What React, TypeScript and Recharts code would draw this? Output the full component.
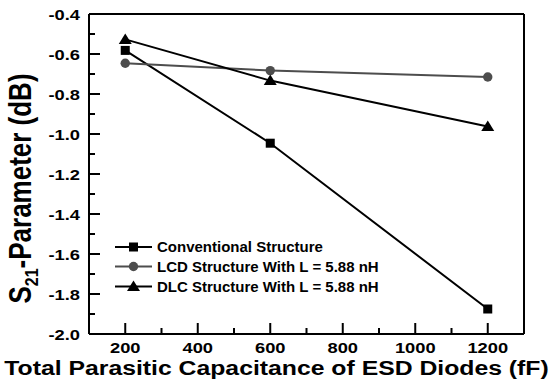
import React from "react";
import { LineChart, Line, XAxis, YAxis, Legend, ReferenceLine } from "recharts";

// capacitance sweep (fF) and S21 readings (dB) for each structure
const capacitance = [200, 600, 1200];
const conventional = [-0.582, -1.046, -1.875];
const lcdWithL = [-0.646, -0.683, -0.715];
const dlcWithL = [-0.527, -0.733, -0.962];

const xTicks = [100, 200, 300, 400, 500, 600, 700, 800, 900, 1000, 1100, 1200, 1300];
const xLabelled = [200, 400, 600, 800, 1000, 1200];
const yTicks = [-2.0, -1.9, -1.8, -1.7, -1.6, -1.5, -1.4, -1.3, -1.2, -1.1, -1.0, -0.9, -0.8, -0.7, -0.6, -0.5, -0.4];

const seriesNames = [
  "Conventional Structure",
  "LCD Structure With L = 5.88 nH",
  "DLC Structure With L = 5.88 nH",
];

const data = capacitance.map((c, i) => ({
  cap: c,
  conv: conventional[i],
  lcd: lcdWithL[i],
  dlc: dlcWithL[i],
}));

const GRAY = "#4d4d4d";
const FONT = "'Liberation Sans', Arial, sans-serif";
const STRETCH = 1.18;

type Shape = "square" | "circle" | "triangle";

const series: { key: string; name: string; color: string; shape: Shape }[] = [
  { key: "conv", name: seriesNames[0], color: "#000", shape: "square" },
  { key: "lcd", name: seriesNames[1], color: GRAY, shape: "circle" },
  { key: "dlc", name: seriesNames[2], color: "#000", shape: "triangle" },
];

const Marker = ({ cx, cy, color, shape }: { cx: number; cy: number; color: string; shape: Shape }) => {
  if (shape === "square") return <rect x={cx - 4.5} y={cy - 4.5} width={9} height={9} fill={color} />;
  if (shape === "circle") return <circle cx={cx} cy={cy} r={4.7} fill={color} />;
  return (
    <polygon
      points={`${cx},${cy - 6} ${cx + 6.5},${cy + 4.5} ${cx - 6.5},${cy + 4.5}`}
      fill={color}
    />
  );
};

const makeDot = (color: string, shape: Shape) => (props: any) => {
  const { cx, cy, index } = props;
  if (cx == null || cy == null) return <g key={index} />;
  return <Marker key={index} cx={cx} cy={cy} color={color} shape={shape} />;
};

// inward ticks, long on labelled values and short in between
const XTick = (props: any) => {
  const { x, y, payload } = props;
  const v = payload.value as number;
  const major = v % 200 === 0;
  return (
    <g>
      <line x1={x} x2={x} y1={y} y2={y - (major ? 11 : 6)} stroke="#000" strokeWidth={2} />
      {xLabelled.includes(v) && (
        <text
          transform={`translate(${x},${y + 19}) scale(${STRETCH},1)`}
          textAnchor="middle"
          fontFamily={FONT}
          fontWeight="bold"
          fontSize={15.5}
          fill="#000"
        >
          {v}
        </text>
      )}
    </g>
  );
};

const YTick = (props: any) => {
  const { x, y, payload } = props;
  const v = payload.value as number;
  const major = Math.round(v * 10) % 2 === 0;
  return (
    <g>
      <line x1={x} x2={x + (major ? 11 : 6)} y1={y} y2={y} stroke="#000" strokeWidth={2} />
      {major && (
        <text
          transform={`translate(${x - 9},${y + 5.5}) scale(${STRETCH},1)`}
          textAnchor="end"
          fontFamily={FONT}
          fontWeight="bold"
          fontSize={15.5}
          fill="#000"
        >
          {v.toFixed(1)}
        </text>
      )}
    </g>
  );
};

const XTitle = (props: any) => {
  const vb = props.viewBox;
  return (
    <text
      transform={`translate(${vb.x + vb.width / 2 - 30},${vb.y + 41}) scale(${STRETCH},1)`}
      textAnchor="middle"
      fontFamily={FONT}
      fontWeight="bold"
      fontSize={21}
      fill="#000"
    >
      Total Parasitic Capacitance of ESD Diodes (fF)
    </text>
  );
};

const YTitle = (props: any) => {
  const vb = props.viewBox;
  return (
    <text
      transform={`translate(${vb.x + 31},${vb.y + vb.height / 2 + 14.5}) scale(${STRETCH},1) rotate(-90)`}
      textAnchor="middle"
      fontFamily={FONT}
      fontWeight="bold"
      fontSize={26}
      fill="#000"
    >
      S
      <tspan fontSize={16} dy={6}>21</tspan>
      <tspan dy={-6}>-Parameter (dB)</tspan>
    </text>
  );
};

const renderLegend = () => (
  <svg width={330} height={62}>
    {series.map((s, i) => {
      const cy = [11, 30.5, 50.5][i];
      return (
        <g key={s.key}>
          <line x1={5} x2={42} y1={cy} y2={cy} stroke={s.color} strokeWidth={2} />
          <Marker cx={23.5} cy={cy} color={s.color} shape={s.shape} />
          <text x={47} y={cy + 5.3} fontFamily={FONT} fontWeight="bold" fontSize={15} fill="#000">
            {s.name}
          </text>
        </g>
      );
    })}
  </svg>
);

export default function App() {
  return (
    <div style={{ position: "absolute", left: 0, top: 0, background: "#fff" }}>
      <LineChart width={554} height={387} data={data} margin={{ top: 14, right: 30, left: 0, bottom: 0 }}>
        <XAxis
          dataKey="cap"
          type="number"
          domain={[100, 1300]}
          ticks={xTicks}
          interval={0}
          height={53}
          tickSize={0}
          tickMargin={0}
          tickLine={false}
          axisLine={{ stroke: "#000", strokeWidth: 2 }}
          tick={<XTick />}
          label={<XTitle />}
        />
        <YAxis
          type="number"
          domain={[-2.0, -0.4]}
          ticks={yTicks}
          interval={0}
          width={89}
          tickSize={0}
          tickMargin={0}
          tickLine={false}
          axisLine={{ stroke: "#000", strokeWidth: 2 }}
          tick={<YTick />}
          label={<YTitle />}
        />
        <ReferenceLine y={-0.4} stroke="#000" strokeWidth={2} />
        <ReferenceLine x={1300} stroke="#000" strokeWidth={2} />
        <Legend
          layout="vertical"
          align="center"
          verticalAlign="middle"
          content={renderLegend}
          wrapperStyle={{ position: "absolute", left: 110, top: 236, width: 330, height: 62 }}
        />
        {series.map((s) => (
          <Line
            key={s.key}
            dataKey={s.key}
            name={s.name}
            type="linear"
            stroke={s.color}
            strokeWidth={2}
            dot={makeDot(s.color, s.shape)}
            activeDot={false}
            legendType="none"
            isAnimationActive={false}
          />
        ))}
      </LineChart>
    </div>
  );
}
